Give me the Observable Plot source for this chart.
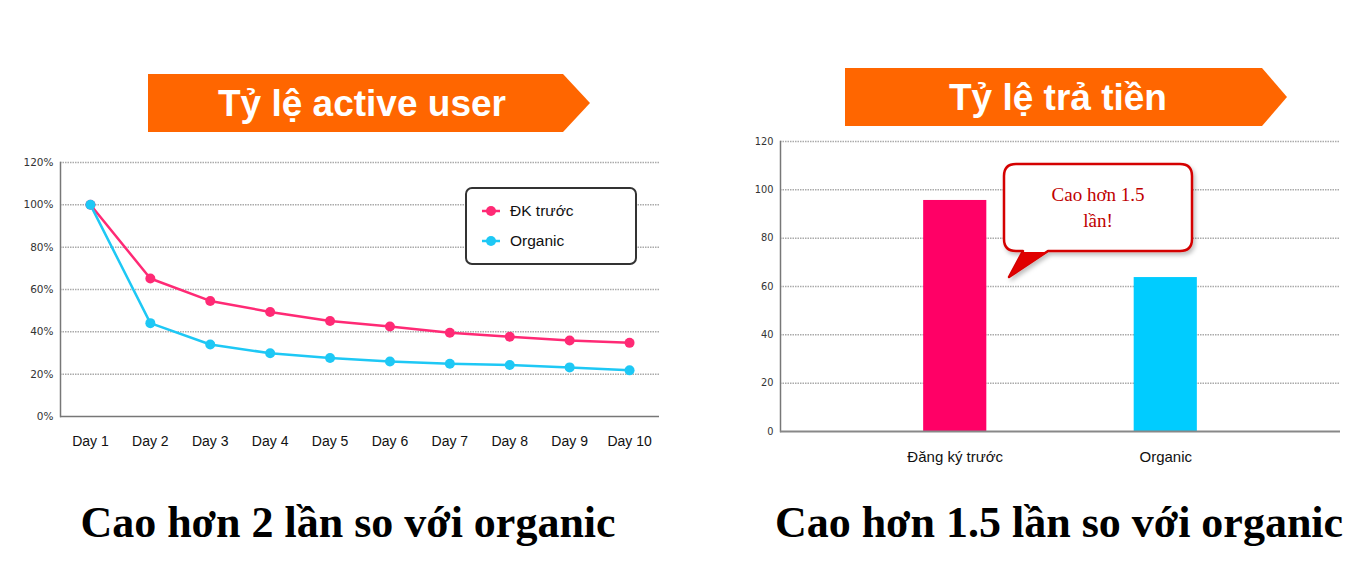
<!DOCTYPE html>
<html><head><meta charset="utf-8">
<script src="https://cdn.jsdelivr.net/npm/d3@7"></script>
<script src="https://cdn.jsdelivr.net/npm/@observablehq/plot@0.6"></script>
<style>
html,body{margin:0;padding:0;background:#fff;}
#root{position:relative;width:1366px;height:583px;overflow:hidden;font-family:"Liberation Sans",Arial,sans-serif;background:#fff;}
.abs{position:absolute;}
.legend{left:465px;top:187px;width:172px;height:78px;box-sizing:border-box;border:2px solid #333;border-radius:7px;background:#fff;}
.legend .item{position:absolute;left:14px;display:flex;align-items:center;font-size:15.5px;color:#111;}
.legend .item svg{margin-right:9px;}
</style></head><body><div id="root"></div>
<script>
// ---- data ----
const days = ["Day 1","Day 2","Day 3","Day 4","Day 5","Day 6","Day 7","Day 8","Day 9","Day 10"];
const dkTruoc = [100, 65.2, 54.6, 49.4, 45.1, 42.5, 39.6, 37.7, 35.9, 34.8];
const organic = [100, 44.1, 34.0, 29.9, 27.6, 26.0, 24.9, 24.3, 23.2, 21.8];
const seriesNames = ["ĐK trước", "Organic"];
const activeTicks = [0, 20, 40, 60, 80, 100, 120];
const payCategories = ["Đăng ký trước", "Organic"];
const payValues = [95.6, 63.7];
const payTicks = [0, 20, 40, 60, 80, 100, 120];
const titles = ["Tỷ lệ active user", "Tỷ lệ trả tiền"];
const captions = ["Cao hơn 2 lần so với organic", "Cao hơn 1.5 lần so với organic"];
const calloutLines = ["Cao hơn 1.5", "lần!"];
const lineColors = ["#ff2a75", "#1ec8f5"];
const barColors = ["#ff0066", "#00ccff"];

const root = document.getElementById("root");
const NS = "http://www.w3.org/2000/svg";

// ---- decorations: banners, captions ----
const deco = document.createElementNS(NS, "svg");
deco.setAttribute("width", 1366); deco.setAttribute("height", 583);
deco.setAttribute("class", "abs"); deco.style.left = "0"; deco.style.top = "0";
deco.innerHTML = `
<polygon points="148,74 563,74 590,103 563,132 148,132" fill="#ff6600"/>
<polygon points="845,68 1262,68 1287,97 1262,126 845,126" fill="#ff6600"/>
<text x="362" y="116" text-anchor="middle" font-family="Liberation Sans" font-weight="bold" font-size="37" fill="#fff">${titles[0]}</text>
<text x="1058" y="110" text-anchor="middle" font-family="Liberation Sans" font-weight="bold" font-size="37" fill="#fff">${titles[1]}</text>
<text x="348" y="537" text-anchor="middle" font-family="Liberation Serif" font-weight="bold" font-size="44" fill="#000">${captions[0]}</text>
<text x="1059" y="537" text-anchor="middle" font-family="Liberation Serif" font-weight="bold" font-size="44" fill="#000">${captions[1]}</text>
`;
root.appendChild(deco);

// ---- left chart: active user rate ----
const activeRows = days.flatMap((d, i) => [
  {day: d, series: seriesNames[0], value: dkTruoc[i]},
  {day: d, series: seriesNames[1], value: organic[i]}
]);
const left = Plot.plot({
  width: 680, height: 330,
  marginLeft: 60, marginRight: 21, marginTop: 22, marginBottom: 54,
  style: {fontFamily: "Liberation Sans", background: "transparent", overflow: "visible"},
  x: {type: "point", domain: days, padding: 0.5, round: false},
  y: {domain: [0, 120]},
  color: {domain: seriesNames, range: lineColors},
  marks: [
    Plot.ruleY(activeTicks.filter(t => t > 0), {stroke: "#aaa", strokeWidth: 1.5, strokeDasharray: "1.5,1"}),
    Plot.frame({anchor: "left", stroke: "#777", strokeWidth: 1.5}),
    Plot.ruleY([0], {stroke: "#777", strokeWidth: 1.5}),
    Plot.axisY({ticks: activeTicks, tickFormat: d => d + "%", tickSize: 0, tickPadding: 7, fontSize: 10.5, fontFamily: "DejaVu Sans", fill: "#333", label: null}),
    Plot.axisX({tickSize: 0, tickPadding: 20, fontSize: 14, fill: "#111", label: null}),
    Plot.line(activeRows, {x: "day", y: "value", z: "series", stroke: "series", strokeWidth: 2.5}),
    Plot.dot(activeRows, {x: "day", y: "value", fill: "series", r: 5})
  ]
});
left.classList.add("abs");
left.style.left = "0px"; left.style.top = "140px";
root.appendChild(left);

// legend (HTML)
const legend = document.createElement("div");
legend.className = "abs legend";
seriesNames.forEach((name, i) => {
  const item = document.createElement("div");
  item.className = "item";
  item.style.top = (i === 0 ? 13 : 43) + "px";
  item.innerHTML = `<svg width="20" height="12"><line x1="1" y1="6" x2="19" y2="6" stroke="${lineColors[i]}" stroke-width="2.5"/><circle cx="10" cy="6" r="5" fill="${lineColors[i]}"/></svg><span>${name}</span>`;
  legend.appendChild(item);
});
root.appendChild(legend);

// ---- right chart: paying rate ----
const payRows = payCategories.map((c, i) => ({cat: c, value: payValues[i]}));
const right = Plot.plot({
  width: 666, height: 360,
  marginLeft: 80, marginRight: 26, marginTop: 21, marginBottom: 49,
  style: {fontFamily: "Liberation Sans", background: "transparent", overflow: "visible"},
  x: {domain: payCategories, paddingInner: 0.7, paddingOuter: 0.68, round: false},
  y: {domain: [0, 120]},
  color: {domain: payCategories, range: barColors},
  marks: [
    Plot.ruleY(payTicks.filter(t => t > 0), {stroke: "#aaa", strokeWidth: 1.5, strokeDasharray: "1.5,1"}),
    Plot.barY(payRows, {x: "cat", y: "value", fill: "cat"}),
    Plot.frame({anchor: "left", stroke: "#777", strokeWidth: 1.5}),
    Plot.ruleY([0], {stroke: "#888", strokeWidth: 2}),
    Plot.axisY({ticks: payTicks, tickSize: 0, tickPadding: 7, fontSize: 9.8, fontFamily: "DejaVu Sans", fill: "#333", label: null}),
    Plot.axisX({tickSize: 0, tickPadding: 20, fontSize: 15, fill: "#111", label: null})
  ]
});
right.classList.add("abs");
right.style.left = "700px"; right.style.top = "120px";
root.appendChild(right);

// ---- callout ----
const call = document.createElementNS(NS, "svg");
call.setAttribute("width", 1366); call.setAttribute("height", 583);
call.setAttribute("class", "abs"); call.style.left = "0"; call.style.top = "0";
call.innerHTML = `
<defs><filter id="sh2" x="-20%" y="-20%" width="140%" height="150%"><feDropShadow dx="2" dy="3" stdDeviation="2" flood-color="#000" flood-opacity="0.25"/></filter></defs>
<g filter="url(#sh2)">
<path d="M1016,164 H1180 Q1192,164 1192,176 V239 Q1192,251 1180,251 H1048 L1009,277 L1023,251 H1016 Q1004,251 1004,239 V176 Q1004,164 1016,164 Z" fill="#fff" stroke="#d40000" stroke-width="2.5" stroke-linejoin="round"/>
<polygon points="1023,252 1048,252 1009,277" fill="#e00000"/>
</g>
<text x="1098" y="201" text-anchor="middle" font-family="Liberation Serif" font-size="19" fill="#c00000">${calloutLines[0]}</text>
<text x="1098" y="227" text-anchor="middle" font-family="Liberation Serif" font-size="19" fill="#c00000">${calloutLines[1]}</text>
`;
root.appendChild(call);
</script></body></html>
